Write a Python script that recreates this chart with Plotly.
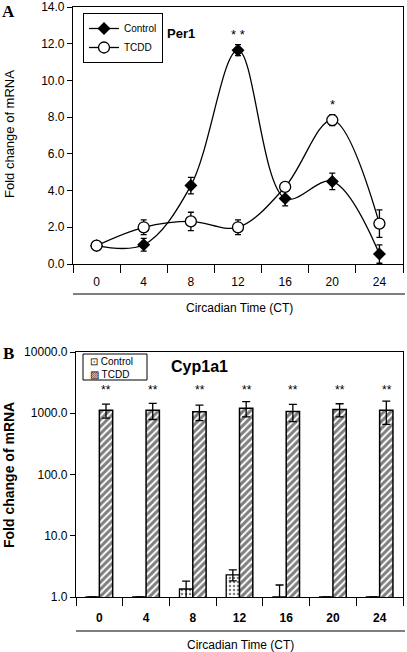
import plotly.graph_objects as go

# ---------------- data ----------------
ct = ["0", "4", "8", "12", "16", "20", "24"]

per1_control = [1.0, 1.05, 4.27, 11.65, 3.57, 4.5, 0.54]
per1_control_err = [0.0, 0.35, 0.45, 0.3, 0.4, 0.45, 0.5]
per1_tcdd = [1.0, 2.0, 2.32, 2.0, 4.2, 7.84, 2.2]
per1_tcdd_err = [0.0, 0.4, 0.5, 0.4, 0.15, 0.3, 0.75]
per1_sig = ["", "", "", "* *", "", "*", ""]

cyp_control = [1.0, 1.0, 1.35, 2.3, 1.0, 1.0, 1.0]
cyp_control_err = [0.0, 0.0, 0.47, 0.47, 0.57, 0.0, 0.0]
cyp_tcdd = [1120, 1120, 1060, 1210, 1065, 1150, 1120]
cyp_tcdd_err = [290, 330, 300, 340, 335, 280, 460]
cyp_sig = ["**", "**", "**", "**", "**", "**", "**"]

per1_yticks = [0, 2, 4, 6, 8, 10, 12, 14]
cyp_yticks = [1, 10, 100, 1000, 10000]

W, H = 407, 652
def px(x): return x / W
def py(y): return 1 - y / H

FONT = "Liberation Sans, Arial, sans-serif"
SERIF = "Liberation Serif, Times New Roman, serif"

fig = go.Figure()

# ---------- Panel A ----------
fig.add_trace(go.Scatter(
    x=ct, y=per1_control, name="Control", mode="lines+markers",
    line=dict(color="black", width=1.3, shape="spline", smoothing=1.0),
    marker=dict(symbol="diamond", size=10, color="black"),
    error_y=dict(type="data", array=per1_control_err, color="black", thickness=1.3, width=3),
    xaxis="x", yaxis="y", legend="legend"))
fig.add_trace(go.Scatter(
    x=ct, y=per1_tcdd, name="TCDD", mode="lines+markers",
    line=dict(color="black", width=1.3, shape="spline", smoothing=1.0),
    marker=dict(symbol="circle", size=11, color="white", line=dict(color="black", width=1.3)),
    error_y=dict(type="data", array=per1_tcdd_err, color="black", thickness=1.3, width=3),
    xaxis="x", yaxis="y", legend="legend"))

# ---------- Panel B ----------
fig.add_trace(go.Bar(
    x=ct, y=cyp_control, name="Control", showlegend=False,
    marker=dict(color="white", line=dict(color="black", width=1.3),
                pattern=dict(shape=".", fgcolor="black", bgcolor="white", size=4, solidity=0.3)),
    error_y=dict(type="data", array=cyp_control_err, color="black", thickness=1.3, width=4),
    xaxis="x2", yaxis="y2"))
fig.add_trace(go.Bar(
    x=ct, y=cyp_tcdd, name="TCDD", showlegend=False,
    marker=dict(color="white", line=dict(color="black", width=1.5),
                pattern=dict(shape="/", fgcolor="black", bgcolor="white", size=5, solidity=0.6)),
    error_y=dict(type="data", array=cyp_tcdd_err, color="black", thickness=1.3, width=4),
    xaxis="x2", yaxis="y2"))

annotations = []
for i, (vc, ec, vt, et, s) in enumerate(zip(per1_control, per1_control_err, per1_tcdd, per1_tcdd_err, per1_sig)):
    if s:
        top = max(vc + ec, vt + et)
        annotations.append(dict(x=i, y=top, xref="x", yref="y", text=s, showarrow=False,
                                xanchor="center", yanchor="bottom", yshift=1,
                                font=dict(size=13, color="black", family=FONT)))
for i, s in enumerate(cyp_sig):
    annotations.append(dict(x=i, y=0.81, xref="x2", yref="y2 domain", text=s, showarrow=False,
                            xshift=7, xanchor="center", yanchor="bottom",
                            font=dict(size=12, color="black", family=FONT)))

def lab(x, y, text, size, family=FONT, angle=0, xanchor="center"):
    return dict(x=px(x), y=py(y), xref="paper", yref="paper", text=text, showarrow=False,
                xanchor=xanchor, yanchor="middle", textangle=angle,
                font=dict(size=size, family=family, color="black"))

annotations += [
    lab(8, 11, "<b>A</b>", 17, SERIF),
    lab(8, 353, "<b>B</b>", 17, SERIF),
    lab(181, 33, "<b>Per1</b>", 13),
    lab(199, 366, "<b>Cyp1a1</b>", 16),
    lab(9, 134, "Fold change of mRNA", 13, angle=-90),
    lab(9, 475, "<b>Fold change of mRNA</b>", 14, angle=-90),
    lab(239, 308, "Circadian Time (CT)", 12),
    lab(240, 645, "Circadian Time (CT)", 12),
    # legend for panel B
    lab(88, 361, "⊡ Control", 10, xanchor="left"),
    lab(88, 374, "▨ TCDD", 10, xanchor="left"),
]

shapes = [
    dict(type="line", xref="paper", yref="paper", x0=px(73), x1=px(405), y0=py(294), y1=py(294),
         line=dict(color="black", width=1.2)),
    dict(type="line", xref="paper", yref="paper", x0=px(76), x1=px(405), y0=py(631), y1=py(631),
         line=dict(color="black", width=1.2)),
    dict(type="rect", xref="paper", yref="paper", x0=px(83), x1=px(147), y0=py(380), y1=py(354),
         line=dict(color="black", width=1), fillcolor="rgba(0,0,0,0)"),
]

axis_common = dict(showline=True, linecolor="black", linewidth=1.2, mirror=True,
                   showgrid=False, zeroline=False, ticks="outside", tickcolor="black",
                   tickwidth=1.2, automargin=False, ticklabeloverflow="allow")

fig.update_layout(
    width=W, height=H, margin=dict(l=0, r=0, t=0, b=0, autoexpand=False),
    paper_bgcolor="white", plot_bgcolor="white",
    font=dict(family=FONT, color="black"),
    showlegend=True, barmode="group", bargap=0.43, bargroupgap=0,
    xaxis=dict(domain=[px(73), px(403)], anchor="y", type="category", tickson="boundaries",
               range=[-0.5, 6.5], ticklen=8, tickangle=0, ticklabelstandoff=6,
               tickfont=dict(size=12, family=FONT, color="black"), **axis_common),
    yaxis=dict(domain=[py(264), py(7)], anchor="x", range=[0, 14], tickvals=per1_yticks,
               tickformat=".1f", ticklen=5,
               tickfont=dict(size=12, family=FONT, color="black"), **axis_common),
    xaxis2=dict(domain=[px(76), px(403)], anchor="y2", type="category", tickson="boundaries",
                range=[-0.5, 6.5], ticklen=8, tickangle=0, ticklabelstandoff=9,
                tickvals=ct, ticktext=[f"<b>{c}</b>" for c in ct],
                tickfont=dict(size=12, family=FONT, color="black"), **axis_common),
    yaxis2=dict(domain=[py(597), py(352)], anchor="x2", type="log", range=[0, 4],
                tickvals=cyp_yticks, ticktext=[f"{v:.1f}" for v in cyp_yticks], ticklen=5,
                tickfont=dict(size=12, family=FONT, color="black"), **axis_common),
    legend=dict(x=px(83), y=py(13), xanchor="left", yanchor="top", bgcolor="white",
                bordercolor="black", borderwidth=1, font=dict(size=10, family=FONT, color="black"),
                itemwidth=30, tracegroupgap=0),
    annotations=annotations, shapes=shapes,
)

fig.write_html("out.html", config={"displayModeBar": False},
               post_script="document.body.style.margin='0';document.body.style.overflow='hidden';")
